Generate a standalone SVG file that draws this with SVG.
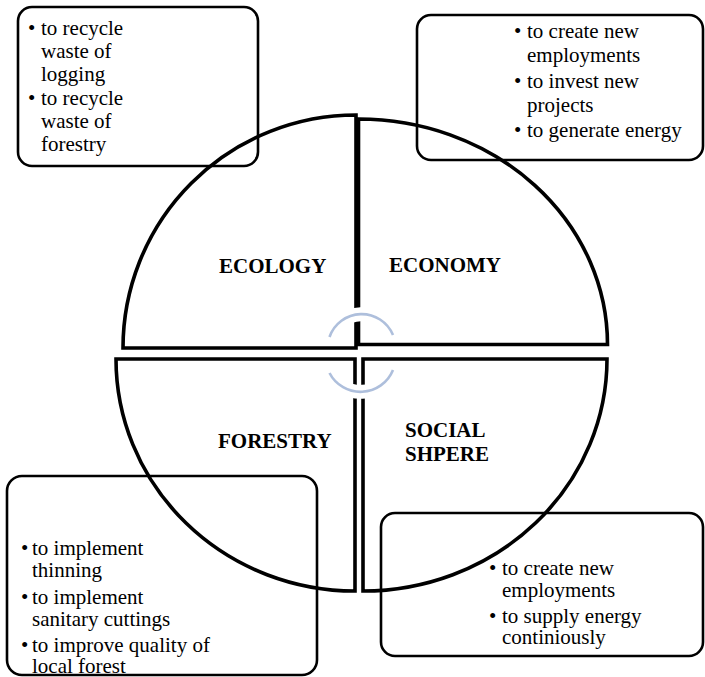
<svg xmlns="http://www.w3.org/2000/svg" width="705" height="677" viewBox="0 0 705 677">
<style>
.q{fill:none;stroke:#000;stroke-width:3.6;stroke-linejoin:miter}
.box{fill:none;stroke:#000;stroke-width:2.6}
.t{font-family:"Liberation Serif","Times New Roman",serif;font-size:21px;fill:#000}
.lbl{font-family:"Liberation Serif","Times New Roman",serif;font-size:21px;font-weight:bold;fill:#000}
.halo{fill:none;stroke:#fff;stroke-width:14}
.arc{fill:none;stroke:#aebfdc;stroke-width:2.6}
</style>
<rect width="705" height="677" fill="#fff"/>
<g id="ecology">
<path class="q" d="M356,348 L123,348 A233,233 0 0 1 356,115 Z"/>
<text class="lbl" x="219" y="273">ECOLOGY</text>
</g>
<g id="economy">
<path class="q" d="M358.5,344.5 L358.5,119 A249,225.5 0 0 1 607.5,344.5 Z"/>
<text class="lbl" x="389" y="272">ECONOMY</text>
</g>
<g id="forestry">
<path class="q" d="M355,591 L355,359 L116,359 A239,232 0 0 0 355,591 Z"/>
<text class="lbl" x="218" y="448">FORESTRY</text>
</g>
<g id="social">
<path class="q" d="M363,591 L363,359 L607,359 A244,232 0 0 1 363,591 Z"/>
<text class="lbl" x="405" y="437">SOCIAL</text>
<text class="lbl" x="405" y="461">SHPERE</text>
</g>
<g id="connectors">
<path class="halo" d="M329.5,337 A34,34 0 0 1 393,335"/>
<path class="halo" d="M329.5,373 A35,35 0 0 0 393,370"/>
<path class="arc" d="M329.5,337 A34,34 0 0 1 393,335"/>
<path class="arc" d="M329.5,373 A35,35 0 0 0 393,370"/>
</g>
<g id="box-ecology">
<rect class="box" x="18" y="7" width="240" height="159" rx="14"/>
<text class="t" x="28" y="35">•</text><text class="t" x="41" y="35">to recycle</text>
<text class="t" x="41" y="58">waste of</text>
<text class="t" x="41" y="81">logging</text>
<text class="t" x="28" y="105">•</text><text class="t" x="41" y="105">to recycle</text>
<text class="t" x="41" y="128">waste of</text>
<text class="t" x="41" y="151">forestry</text>
</g>
<g id="box-economy">
<rect class="box" x="417" y="15" width="286" height="145" rx="14"/>
<text class="t" x="514" y="38">•</text><text class="t" x="527" y="38">to create new</text>
<text class="t" x="527" y="62">employments</text>
<text class="t" x="514" y="88">•</text><text class="t" x="527" y="88">to invest new</text>
<text class="t" x="527" y="112">projects</text>
<text class="t" x="514" y="137">•</text><text class="t" x="527" y="137">to generate energy</text>
</g>
<g id="box-forestry">
<rect class="box" x="7" y="476" width="310" height="199" rx="15"/>
<text class="t" x="21" y="555">•</text><text class="t" x="32" y="555">to implement</text>
<text class="t" x="32" y="577">thinning</text>
<text class="t" x="21" y="604">•</text><text class="t" x="32" y="604">to implement</text>
<text class="t" x="32" y="626">sanitary cuttings</text>
<text class="t" x="21" y="652">•</text><text class="t" x="32" y="652">to improve quality of</text>
<text class="t" x="32" y="673">local forest</text>
</g>
<g id="box-social">
<rect class="box" x="381" y="513" width="322" height="143" rx="14"/>
<text class="t" x="489" y="575">•</text><text class="t" x="502" y="575">to create new</text>
<text class="t" x="502" y="597">employments</text>
<text class="t" x="489" y="623">•</text><text class="t" x="502" y="623">to supply energy</text>
<text class="t" x="502" y="644">continiously</text>
</g>
</svg>
